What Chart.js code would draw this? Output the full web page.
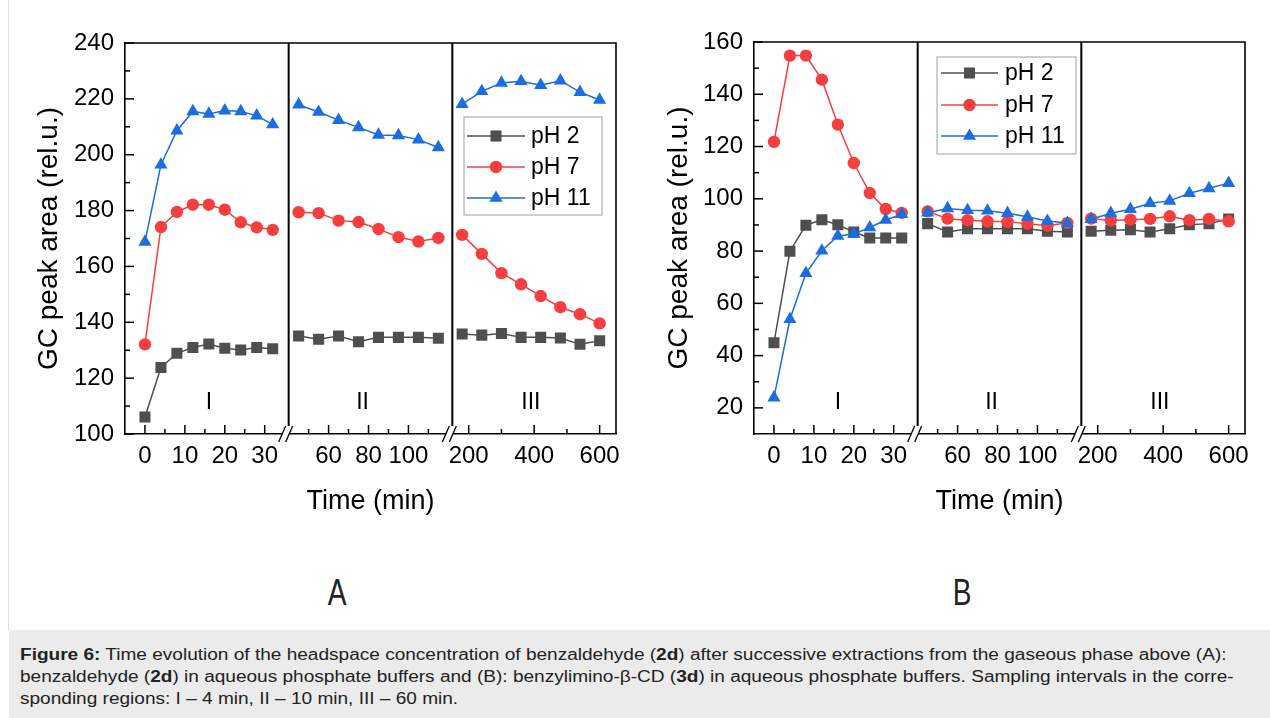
<!DOCTYPE html>
<html>
<head>
<meta charset="utf-8">
<script src="https://cdn.jsdelivr.net/npm/chart.js@4.4.0/dist/chart.umd.min.js"></script>
<style>
  html, body { margin: 0; padding: 0; background: #fff; }
  body { width: 1270px; height: 718px; position: relative; overflow: hidden; font-family: "Liberation Sans", Arial, sans-serif; }
  .frame { position: absolute; left: 8px; top: 0; width: 1261px; height: 630px; border-left: 1px solid #ddd; }
  .panel { position: absolute; top: 0; width: 640px; height: 540px; }
  #wrapA { left: 0; }
  #wrapB { left: 630px; }
  .letter { position: absolute; top: 572px; width: 60px; text-align: center; font: 36px "Liberation Sans", sans-serif; color: #222; transform: scaleX(0.78); }
  .caption { position: absolute; left: 9px; top: 630px; width: 1261px; height: 88px; background: #ebebeb; box-sizing: border-box; padding: 14px 0 0 11px; color: #222; }
  .caption span { display: inline-block; white-space: nowrap; font-size: 16px; line-height: 22px; transform: scaleX(1.19); transform-origin: 0 0; }
</style>
</head>
<body>
<div class="frame"></div>
<div class="panel" id="wrapA"><canvas id="chartA" width="640" height="540"></canvas></div>
<div class="panel" id="wrapB"><canvas id="chartB" width="640" height="540"></canvas></div>
<div class="letter" style="left:307px">A</div>
<div class="letter" style="left:932px">B</div>
<div class="caption"><span><b>Figure 6:</b> Time evolution of the headspace concentration of benzaldehyde (<b>2d</b>) after successive extractions from the gaseous phase above (A):<br>benzaldehyde (<b>2d</b>) in aqueous phosphate buffers and (B): benzylimino-β-CD (<b>3d</b>) in aqueous phosphate buffers. Sampling intervals in the corre-<br>sponding regions: I – 4 min, II – 10 min, III – 60 min.</span></div>

<script>
// sampling times (min) in the three regions
const timeI = [0, 4, 8, 12, 16, 20, 24, 28, 32];
const timeII = [45, 55, 65, 75, 85, 95, 105, 115];
const timeIII = [180, 240, 300, 360, 420, 480, 540, 600];

// panel A: benzaldehyde 2d
const a_pH2 = [106.1, 123.8, 128.9, 131.0, 132.2, 130.7, 130.1, 131.0, 130.5,
               135.1, 133.9, 135.1, 133.0, 134.6, 134.6, 134.6, 134.3,
               135.8, 135.4, 136.0, 134.6, 134.6, 134.4, 132.1, 133.4];
const a_pH7 = [132.1, 174.1, 179.5, 182.1, 182.1, 180.3, 175.8, 174.0, 173.1,
               179.4, 179.1, 176.4, 175.9, 173.4, 170.5, 168.9, 170.2,
               171.3, 164.5, 157.6, 153.6, 149.4, 145.4, 142.9, 139.6];
const a_pH11 = [168.8, 196.4, 208.6, 215.5, 214.6, 215.8, 215.5, 214.0, 210.8,
                217.9, 215.3, 212.4, 209.8, 207.1, 206.9, 205.4, 202.6,
                218.1, 222.7, 225.7, 226.3, 224.9, 226.5, 222.4, 219.6];

// panel B: benzylimino-beta-CD 3d
const b_pH2 = [44.9, 79.9, 89.9, 92.0, 90.1, 87.3, 85.0, 85.0, 85.0,
               90.5, 87.3, 88.5, 88.5, 88.5, 88.5, 87.6, 87.3,
               87.6, 88.0, 88.2, 87.3, 88.5, 90.1, 90.5, 92.3];
const b_pH7 = [121.8, 154.8, 154.8, 145.6, 128.4, 113.7, 102.2, 96.1, 94.6,
               95.2, 92.4, 91.8, 91.4, 91.2, 90.5, 89.7, 90.8,
               92.4, 91.7, 92.0, 92.3, 93.3, 91.8, 92.3, 91.4];
const b_pH11 = [23.9, 53.9, 71.5, 80.1, 85.8, 86.5, 89.0, 91.9, 94.1,
                94.7, 96.3, 95.6, 95.4, 94.5, 93.1, 91.5, 90.7,
                92.2, 94.5, 96.0, 98.3, 99.2, 102.1, 104.0, 106.0];

// axes
const xRange = [[-5, 36], [40, 122], [150, 650]];
const xTicksMajor = [[0, 10, 20, 30], [60, 80, 100], [200, 400, 600]];
const xTicksMinor = [[5, 15, 25], [50, 70, 90, 110], [300, 500]];
const yTicksA = [100, 120, 140, 160, 180, 200, 220, 240];
const yMinorA = [110, 130, 150, 170, 190, 210, 230];
const yTicksB = [20, 40, 60, 80, 100, 120, 140, 160];
const yMinorB = [30, 50, 70, 90, 110, 130, 150];
const regionNames = ['I', 'II', 'III'];
const regionAt = [16, 77, 390];

const seriesNames = ['pH 2', 'pH 7', 'pH 11'];
const colors = ['#4f4f4f', '#f53f3f', '#1b6de0'];
const styles = ['rect', 'circle', 'triangle'];
const radii = [7.8, 6.2, 7.6];

const FONT = '"Liberation Sans", Arial, sans-serif';

function splitSeries(vals) {
  const times = [timeI, timeII, timeIII];
  let k = 0;
  return times.map(ts => ts.map(t => ({x: t, y: vals[k++]})));
}

function buildDatasets(seriesList) {
  const out = [];
  seriesList.forEach((vals, s) => {
    splitSeries(vals).forEach((pts, seg) => {
      out.push({
        label: seriesNames[s],
        data: pts,
        xAxisID: 'x' + (seg + 1),
        borderColor: colors[s],
        backgroundColor: colors[s],
        borderWidth: 1.5,
        pointStyle: styles[s],
        pointRadius: radii[s],
        pointHoverRadius: radii[s],
        pointBorderWidth: 0,
        order: 2 - s
      });
    });
  });
  return out;
}

// frame, dividers, inward ticks, axis breaks, region names, legend
const decorPlugin = {
  id: 'decor',
  afterDraw(chart, args, opts) {
    const ctx = chart.ctx;
    const a = chart.chartArea;
    const xs = [chart.scales.x1, chart.scales.x2, chart.scales.x3];
    const y = chart.scales.y;
    ctx.save();
    ctx.strokeStyle = '#000';
    ctx.lineWidth = 1.6;
    ctx.beginPath();
    ctx.moveTo(a.left, a.top); ctx.lineTo(a.right, a.top); ctx.lineTo(a.right, a.bottom);
    ctx.stroke();
    ctx.lineWidth = 2;
    [xs[0].right, xs[1].right].forEach(bx => {
      ctx.beginPath(); ctx.moveTo(bx, a.top); ctx.lineTo(bx, a.bottom); ctx.stroke();
    });
    ctx.lineWidth = 1.5;
    xs.forEach((sc, i) => {
      xTicksMajor[i].forEach(v => {
        const p = sc.getPixelForValue(v);
        ctx.beginPath(); ctx.moveTo(p, a.bottom); ctx.lineTo(p, a.bottom - 9); ctx.stroke();
      });
      xTicksMinor[i].forEach(v => {
        const p = sc.getPixelForValue(v);
        ctx.beginPath(); ctx.moveTo(p, a.bottom); ctx.lineTo(p, a.bottom - 5); ctx.stroke();
      });
    });
    opts.yMajor.forEach(v => {
      const p = y.getPixelForValue(v);
      ctx.beginPath(); ctx.moveTo(a.left, p); ctx.lineTo(a.left + 9, p); ctx.stroke();
    });
    opts.yMinor.forEach(v => {
      const p = y.getPixelForValue(v);
      ctx.beginPath(); ctx.moveTo(a.left, p); ctx.lineTo(a.left + 5, p); ctx.stroke();
    });
    // axis breaks
    [xs[0].right, xs[1].right].forEach(bx => {
      const cx = bx - 2, cy = a.bottom;
      ctx.fillStyle = '#fff';
      ctx.beginPath();
      ctx.moveTo(cx - 8, cy + 8); ctx.lineTo(cx - 1, cy - 8);
      ctx.lineTo(cx + 6, cy - 8); ctx.lineTo(cx - 1, cy + 8);
      ctx.closePath(); ctx.fill();
      ctx.fillRect(bx - 1, a.bottom - 8, 2, 7);
      ctx.lineWidth = 1.3;
      [[-8, -1], [-1, 6]].forEach(([d0, d1]) => {
        ctx.beginPath(); ctx.moveTo(cx + d0, cy + 8); ctx.lineTo(cx + d1, cy - 8); ctx.stroke();
      });
    });
    // region names
    ctx.fillStyle = '#000';
    ctx.font = '23px ' + FONT;
    ctx.textAlign = 'center';
    ctx.textBaseline = 'middle';
    xs.forEach((sc, i) => {
      ctx.fillText(regionNames[i], sc.getPixelForValue(regionAt[i]), a.bottom - 31);
    });
    // legend
    const L = opts.legend;
    ctx.strokeStyle = '#a0a0a0';
    ctx.lineWidth = 1;
    ctx.strokeRect(L.x, L.y, L.w, L.h);
    ctx.textAlign = 'left';
    ctx.font = '23px ' + FONT;
    seriesNames.forEach((name, s) => {
      const ry = L.rows[s];
      ctx.strokeStyle = colors[s];
      ctx.fillStyle = colors[s];
      ctx.lineWidth = 1.5;
      ctx.beginPath(); ctx.moveTo(L.x1, ry); ctx.lineTo(L.x2, ry); ctx.stroke();
      Chart.helpers.drawPoint(ctx, {pointStyle: styles[s], radius: radii[s], borderWidth: 0, rotation: 0}, (L.x1 + L.x2) / 2, ry);
      ctx.fillStyle = '#000';
      ctx.fillText(name, L.tx, ry + 1);
    });
    ctx.restore();
  }
};

function makeChart(id, seriesList, yMin, yMax, yMajor, yMinor, pad, yWidth, legend) {
  const xScale = (i, withTitle) => ({
    type: 'linear',
    position: 'bottom',
    stack: 'time',
    stackWeight: 1,
    min: xRange[i][0],
    max: xRange[i][1],
    afterBuildTicks: sc => { sc.ticks = xTicksMajor[i].map(v => ({value: v})); },
    afterFit: sc => { sc.height = 100; },
    grid: {display: false, drawTicks: false},
    border: {display: true, color: '#000', width: 1.6},
    ticks: {color: '#000', font: {family: FONT, size: 24}, padding: 8, maxRotation: 0, minRotation: 0, autoSkip: false},
    title: {display: withTitle, text: 'Time (min)', color: '#000', font: {family: FONT, size: 27}, padding: {top: 0, bottom: 16}}
  });
  return new Chart(document.getElementById(id), {
    type: 'line',
    data: {datasets: buildDatasets(seriesList)},
    options: {
      responsive: false,
      animation: false,
      events: [],
      layout: {padding: pad},
      plugins: {
        legend: {display: false},
        tooltip: {enabled: false},
        decor: {yMajor: yMajor, yMinor: yMinor, legend: legend}
      },
      scales: {
        x1: xScale(0, false),
        x2: xScale(1, true),
        x3: xScale(2, false),
        y: {
          type: 'linear',
          position: 'left',
          min: yMin,
          max: yMax,
          afterBuildTicks: sc => { sc.ticks = yMajor.map(v => ({value: v})); },
          afterFit: sc => { sc.width = yWidth; },
          grid: {display: false, drawTicks: false},
          border: {display: true, color: '#000', width: 1.6},
          ticks: {color: '#000', font: {family: FONT, size: 24}, padding: 11},
          title: {display: true, text: 'GC peak area (rel.u.)', color: '#000', font: {family: FONT, size: 28}, padding: {top: 12, bottom: 0}}
        }
      }
    },
    plugins: [decorPlugin]
  });
}

makeChart('chartA', [a_pH2, a_pH7, a_pH11], 100, 240, yTicksA, yMinorA,
  {left: 20, right: 24, top: 43, bottom: 6}, 105,
  {x: 464, y: 117, w: 138, h: 98, rows: [136, 167, 198], x1: 467, x2: 525, tx: 531});

makeChart('chartB', [b_pH2, b_pH7, b_pH11], 10, 160, yTicksB, yMinorB,
  {left: 20, right: 25, top: 42, bottom: 6}, 104,
  {x: 307, y: 57, w: 139, h: 97, rows: [73, 105, 136], x1: 311, x2: 368, tx: 375});
</script>
</body>
</html>
